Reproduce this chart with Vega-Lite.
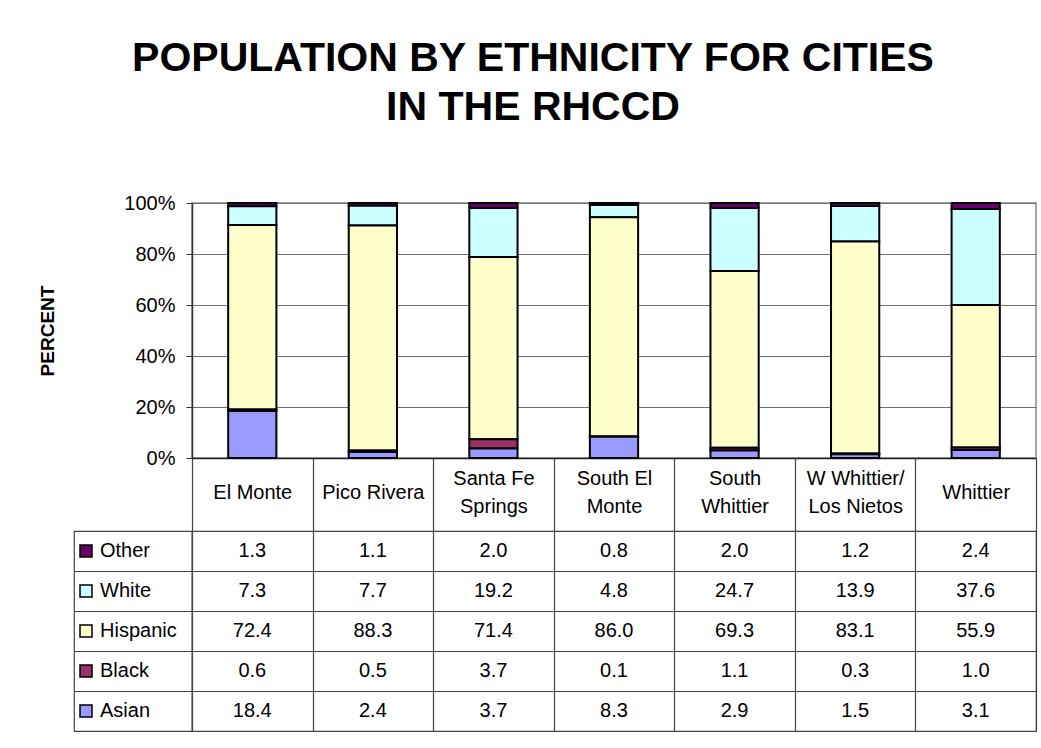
{
  "$schema": "https://vega.github.io/schema/vega-lite/v6.json",
  "background": "white",
  "padding": {"left": 38, "top": 38, "right": 0, "bottom": 5},
  "config": {
    "font": "Liberation Sans",
    "view": {"stroke": null},
    "axis": {"labelColor": "black", "titleColor": "black"}
  },
  "title": {
    "text": ["POPULATION BY ETHNICITY FOR CITIES", "IN THE RHCCD"],
    "fontSize": 41,
    "fontWeight": "bold",
    "font": "Liberation Sans",
    "color": "black",
    "lineHeight": 49,
    "anchor": "start",
    "align": "center",
    "frame": "group",
    "dx": 459,
    "offset": 63
  },
  "datasets": {
    "pop": [
      {"city": "El Monte", "ethnicity": "Other", "value": 1.3},
      {"city": "Pico Rivera", "ethnicity": "Other", "value": 1.1},
      {"city": "Santa Fe Springs", "ethnicity": "Other", "value": 2.0},
      {"city": "South El Monte", "ethnicity": "Other", "value": 0.8},
      {"city": "South Whittier", "ethnicity": "Other", "value": 2.0},
      {"city": "W Whittier/Los Nietos", "ethnicity": "Other", "value": 1.2},
      {"city": "Whittier", "ethnicity": "Other", "value": 2.4},
      {"city": "El Monte", "ethnicity": "White", "value": 7.3},
      {"city": "Pico Rivera", "ethnicity": "White", "value": 7.7},
      {"city": "Santa Fe Springs", "ethnicity": "White", "value": 19.2},
      {"city": "South El Monte", "ethnicity": "White", "value": 4.8},
      {"city": "South Whittier", "ethnicity": "White", "value": 24.7},
      {"city": "W Whittier/Los Nietos", "ethnicity": "White", "value": 13.9},
      {"city": "Whittier", "ethnicity": "White", "value": 37.6},
      {"city": "El Monte", "ethnicity": "Hispanic", "value": 72.4},
      {"city": "Pico Rivera", "ethnicity": "Hispanic", "value": 88.3},
      {"city": "Santa Fe Springs", "ethnicity": "Hispanic", "value": 71.4},
      {"city": "South El Monte", "ethnicity": "Hispanic", "value": 86.0},
      {"city": "South Whittier", "ethnicity": "Hispanic", "value": 69.3},
      {"city": "W Whittier/Los Nietos", "ethnicity": "Hispanic", "value": 83.1},
      {"city": "Whittier", "ethnicity": "Hispanic", "value": 55.9},
      {"city": "El Monte", "ethnicity": "Black", "value": 0.6},
      {"city": "Pico Rivera", "ethnicity": "Black", "value": 0.5},
      {"city": "Santa Fe Springs", "ethnicity": "Black", "value": 3.7},
      {"city": "South El Monte", "ethnicity": "Black", "value": 0.1},
      {"city": "South Whittier", "ethnicity": "Black", "value": 1.1},
      {"city": "W Whittier/Los Nietos", "ethnicity": "Black", "value": 0.3},
      {"city": "Whittier", "ethnicity": "Black", "value": 1.0},
      {"city": "El Monte", "ethnicity": "Asian", "value": 18.4},
      {"city": "Pico Rivera", "ethnicity": "Asian", "value": 2.4},
      {"city": "Santa Fe Springs", "ethnicity": "Asian", "value": 3.7},
      {"city": "South El Monte", "ethnicity": "Asian", "value": 8.3},
      {"city": "South Whittier", "ethnicity": "Asian", "value": 2.9},
      {"city": "W Whittier/Los Nietos", "ethnicity": "Asian", "value": 1.5},
      {"city": "Whittier", "ethnicity": "Asian", "value": 3.1}
    ],
    "series": [
      {"ethnicity": "Other"},
      {"ethnicity": "White"},
      {"ethnicity": "Hispanic"},
      {"ethnicity": "Black"},
      {"ethnicity": "Asian"}
    ]
  },
  "columns": 2,
  "spacing": {"row": 73, "column": 0},
  "bounds": "flush",
  "resolve": {"scale": {"x": "independent", "y": "independent", "color": "shared"}},
  "concat": [
    {
      "width": 118,
      "height": 255,
      "data": {"name": "series"},
      "mark": {"type": "text", "opacity": 0},
      "encoding": {"text": {"value": ""}}
    },
    {
      "width": 844,
      "height": 255,
      "view": {"stroke": "#8a8a8a", "strokeWidth": 1.5},
      "data": {"name": "pop"},
      "transform": [
        {"calculate": "indexof(['Asian', 'Black', 'Hispanic', 'White', 'Other'], datum.ethnicity)", "as": "stackOrder"}
      ],
      "mark": {"type": "bar", "stroke": "black", "strokeWidth": 2, "width": {"band": 0.4}},
      "encoding": {
        "x": {
          "field": "city",
          "type": "nominal",
          "sort": ["El Monte", "Pico Rivera", "Santa Fe Springs", "South El Monte", "South Whittier", "W Whittier/Los Nietos", "Whittier"],
          "scale": {"paddingInner": 0, "paddingOuter": 0},
          "axis": {
            "title": null,
            "domainColor": "#222222",
            "domainWidth": 1.5,
            "tickBand": "extent",
            "tickSize": 73,
            "tickColor": "#444444",
            "tickWidth": 1.2,
            "labelAngle": 0,
            "labelFontSize": 20,
            "labelBaseline": "middle",
            "labelPadding": {
              "condition": {"test": "indexof(['Santa Fe Springs', 'South El Monte', 'South Whittier', 'W Whittier/Los Nietos'], datum.value) >= 0", "value": -53},
              "value": -39
            },
            "labelLineHeight": 28.5,
            "labelOverlap": false,
            "labelFlush": false,
            "labelExpr": "datum.value == 'Santa Fe Springs' ? ['Santa Fe', 'Springs'] : datum.value == 'South El Monte' ? ['South El', 'Monte'] : datum.value == 'South Whittier' ? ['South', 'Whittier'] : datum.value == 'W Whittier/Los Nietos' ? ['W Whittier/', 'Los Nietos'] : datum.label"
          }
        },
        "y": {
          "field": "value",
          "type": "quantitative",
          "stack": "normalize",
          "axis": {
            "title": "PERCENT",
            "titleFontSize": 19,
            "titleFontWeight": "bold",
            "titlePadding": 66,
            "values": [0, 0.2, 0.4, 0.6, 0.8, 1],
            "format": ".0%",
            "labelFontSize": 20,
            "labelPadding": 11,
            "tickSize": 6,
            "tickColor": "#333333",
            "domainColor": "#333333",
            "domainWidth": 1.5,
            "gridColor": "#6e6e6e",
            "gridWidth": 1.2
          }
        },
        "color": {
          "field": "ethnicity",
          "type": "nominal",
          "scale": {
            "domain": ["Asian", "Black", "Hispanic", "White", "Other"],
            "range": ["#9999FF", "#993366", "#FFFFCC", "#CCFFFF", "#660066"]
          },
          "legend": null
        },
        "order": {"field": "stackOrder", "type": "quantitative", "sort": "ascending"}
      }
    },
    {
      "width": 118,
      "height": 200,
      "view": {"stroke": "#444444", "strokeWidth": 1.2},
      "data": {"name": "series"},
      "encoding": {
        "y": {
          "field": "ethnicity",
          "type": "nominal",
          "sort": ["Other", "White", "Hispanic", "Black", "Asian"],
          "scale": {"paddingInner": 0, "paddingOuter": 0},
          "axis": {"title": null, "labels": false, "ticks": false, "domain": false, "grid": true, "tickBand": "extent", "gridColor": "#444444", "gridWidth": 1.2}
        }
      },
      "layer": [
        {
          "mark": {"type": "point", "shape": "square", "filled": true, "size": 144, "stroke": "black", "strokeWidth": 1.5, "opacity": 1, "xOffset": -47},
          "encoding": {
            "color": {
              "field": "ethnicity",
              "type": "nominal",
              "scale": {
                "domain": ["Asian", "Black", "Hispanic", "White", "Other"],
                "range": ["#9999FF", "#993366", "#FFFFCC", "#CCFFFF", "#660066"]
              },
              "legend": null
            }
          }
        },
        {
          "mark": {"type": "text", "align": "left", "dx": -33, "fontSize": 20, "color": "black"},
          "encoding": {"text": {"field": "ethnicity"}}
        }
      ]
    },
    {
      "width": 844,
      "height": 200,
      "view": {"stroke": "#444444", "strokeWidth": 1.2},
      "data": {"name": "pop"},
      "mark": {"type": "text", "fontSize": 20, "color": "black"},
      "encoding": {
        "x": {
          "field": "city",
          "type": "nominal",
          "sort": ["El Monte", "Pico Rivera", "Santa Fe Springs", "South El Monte", "South Whittier", "W Whittier/Los Nietos", "Whittier"],
          "scale": {"paddingInner": 0, "paddingOuter": 0},
          "axis": {"title": null, "labels": false, "ticks": false, "domain": false, "grid": true, "tickBand": "extent", "gridColor": "#444444", "gridWidth": 1.2}
        },
        "y": {
          "field": "ethnicity",
          "type": "nominal",
          "sort": ["Other", "White", "Hispanic", "Black", "Asian"],
          "scale": {"paddingInner": 0, "paddingOuter": 0},
          "axis": {"title": null, "labels": false, "ticks": false, "domain": false, "grid": true, "tickBand": "extent", "gridColor": "#444444", "gridWidth": 1.2}
        },
        "text": {"field": "value", "type": "quantitative", "format": ".1f"}
      }
    }
  ]
}
